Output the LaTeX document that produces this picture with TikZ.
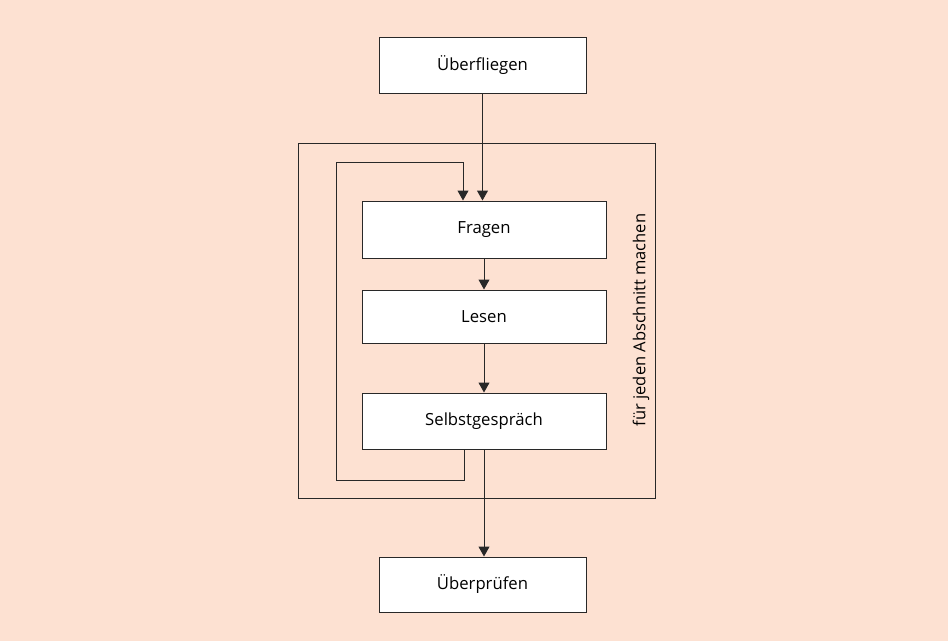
\documentclass[tikz,border=0pt]{standalone}
\usepackage{fontspec}
\setmainfont{Open Sans}
\usetikzlibrary{arrows.meta}
\definecolor{peach}{RGB}{253,225,210}
\definecolor{rahmen}{RGB}{40,40,40}
\tikzset{
  schritt/.style={draw=rahmen, line width=1pt, fill=white, minimum width=244pt, minimum height=56pt, font=\fontsize{16.7}{20}\selectfont, inner sep=0pt},
  pfeil/.style={line width=1pt, draw=rahmen, -{Triangle[width=11pt,length=10pt]}},
  linie/.style={line width=1pt, draw=rahmen}
}
\begin{document}
\begin{tikzpicture}[x=1pt,y=-1pt]
    \fill [peach] (0,0) rectangle (948,641);
    \useasboundingbox (0,0) rectangle (948,641);
    % Rahmen fuer die Schleife
    \node [linie, minimum width=357pt, minimum height=355pt, inner sep=0pt] (rahmen) at (476.5,320.5) {};
    \node [rotate=90, font=\fontsize{16.5}{20}\selectfont] (rahmentext) at (641,320) {für jeden Abschnitt machen};
    % Schritte
    \node [schritt, minimum width=207pt] (ueberfliegen) at (482.5,65) {Überfliegen};
    \node [schritt, minimum height=57pt] (fragen) at (484,229.5) {Fragen};
    \node [schritt, minimum height=53pt] (lesen) at (484,316.5) {Lesen};
    \node [schritt] (selbst) at (484,421) {Selbstgespräch};
    \node [schritt, minimum width=207pt, minimum height=55pt] (ueberpruefen) at (482.5,584.5) {Überprüfen};
    \draw [pfeil] (ueberfliegen.south) -- (ueberfliegen.south |- fragen.north);
    \draw [pfeil] (fragen.south) -- (lesen.north);
    \draw [pfeil] (lesen.south) -- (selbst.north);
    \draw [pfeil] (selbst.south) -- (selbst.south |- ueberpruefen.north);
    % Rueckfuehrung
    \coordinate (untenlinks) at (336,480);
    \coordinate (obenlinks) at (336,162);
    \draw [pfeil] ([xshift=-20pt]selbst.south) |- (untenlinks) -- (obenlinks) -| ([xshift=-21pt]fragen.north);
  \end{tikzpicture}
\end{document}
